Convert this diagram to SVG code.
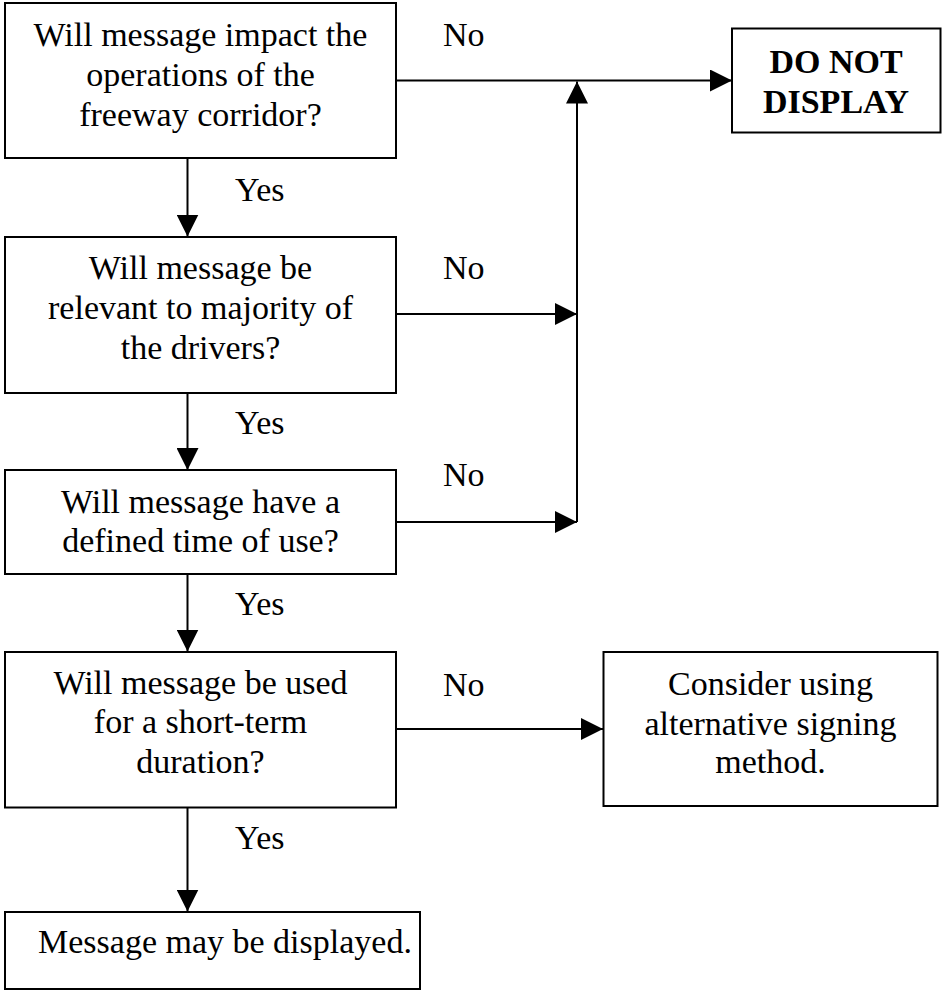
<svg xmlns="http://www.w3.org/2000/svg" width="943" height="990" viewBox="0 0 943 990">
  <style>
    .box { fill: #ffffff; stroke: #000000; stroke-width: 2; }
    .lbl { font-family: "Liberation Serif", "Times New Roman", serif; font-size: 34px; fill: #000000; }
    .mid { text-anchor: middle; }
    .bold { font-weight: bold; }
    .wire { fill: none; stroke: #000000; stroke-width: 2; }
  </style>
  <defs>
    <marker id="arrow" viewBox="0 0 22 22" refX="22" refY="11" markerWidth="22" markerHeight="22" markerUnits="userSpaceOnUse" orient="auto">
      <path d="M0,0 L22,11 L0,22 Z" fill="#000000"/>
    </marker>
  </defs>

  <rect width="943" height="990" fill="#ffffff"/>

  <!-- connectors -->
  <g id="connectors">
    <line class="wire" x1="187.5" y1="158" x2="187.5" y2="236.5" marker-end="url(#arrow)"/>
    <line class="wire" x1="187.5" y1="393" x2="187.5" y2="470" marker-end="url(#arrow)"/>
    <line class="wire" x1="187.5" y1="574" x2="187.5" y2="651.5" marker-end="url(#arrow)"/>
    <line class="wire" x1="187.5" y1="807.5" x2="187.5" y2="911.5" marker-end="url(#arrow)"/>

    <line class="wire" x1="396" y1="80.5" x2="732" y2="80.5" marker-end="url(#arrow)"/>
    <line class="wire" x1="396" y1="314" x2="577" y2="314" marker-end="url(#arrow)"/>
    <line class="wire" x1="396" y1="522" x2="577" y2="522" marker-end="url(#arrow)"/>
    <line class="wire" x1="577" y1="522" x2="577" y2="81.5" marker-end="url(#arrow)"/>
    <line class="wire" x1="396" y1="729" x2="603" y2="729" marker-end="url(#arrow)"/>

    <text class="lbl" x="443" y="46">No</text>
    <text class="lbl" x="443" y="279">No</text>
    <text class="lbl" x="443" y="486">No</text>
    <text class="lbl" x="443" y="696">No</text>

    <text class="lbl" x="235" y="201">Yes</text>
    <text class="lbl" x="235" y="434">Yes</text>
    <text class="lbl" x="235" y="615">Yes</text>
    <text class="lbl" x="235" y="849">Yes</text>
  </g>

  <g id="q-impact">
    <rect class="box" x="5" y="3" width="391" height="155"/>
    <text class="lbl mid" x="200.5" y="46">Will message impact the</text>
    <text class="lbl mid" x="200.5" y="86">operations of the</text>
    <text class="lbl mid" x="200.5" y="126">freeway corridor?</text>
  </g>

  <g id="do-not-display">
    <rect class="box" x="732" y="28.5" width="208.5" height="104"/>
    <text class="lbl mid bold" x="836" y="72.5">DO NOT</text>
    <text class="lbl mid bold" x="836" y="112.5">DISPLAY</text>
  </g>

  <g id="q-relevant">
    <rect class="box" x="5" y="237" width="391" height="156"/>
    <text class="lbl mid" x="200.5" y="279">Will message be</text>
    <text class="lbl mid" x="200.5" y="319">relevant to majority of</text>
    <text class="lbl mid" x="200.5" y="359">the drivers?</text>
  </g>

  <g id="q-time">
    <rect class="box" x="5" y="470" width="391" height="104"/>
    <text class="lbl mid" x="200.5" y="513">Will message have a</text>
    <text class="lbl mid" x="200.5" y="552">defined time of use?</text>
  </g>

  <g id="q-short-term">
    <rect class="box" x="5" y="652" width="391" height="155.5"/>
    <text class="lbl mid" x="200.5" y="694">Will message be used</text>
    <text class="lbl mid" x="200.5" y="733">for a short-term</text>
    <text class="lbl mid" x="200.5" y="773">duration?</text>
  </g>

  <g id="alternative">
    <rect class="box" x="603.5" y="652" width="334" height="154"/>
    <text class="lbl mid" x="770.5" y="695">Consider using</text>
    <text class="lbl mid" x="770.5" y="735">alternative signing</text>
    <text class="lbl mid" x="770.5" y="773">method.</text>
  </g>

  <g id="display-ok">
    <rect class="box" x="5" y="912" width="415" height="77"/>
    <text class="lbl" x="38" y="953">Message may be displayed.</text>
  </g>
</svg>
